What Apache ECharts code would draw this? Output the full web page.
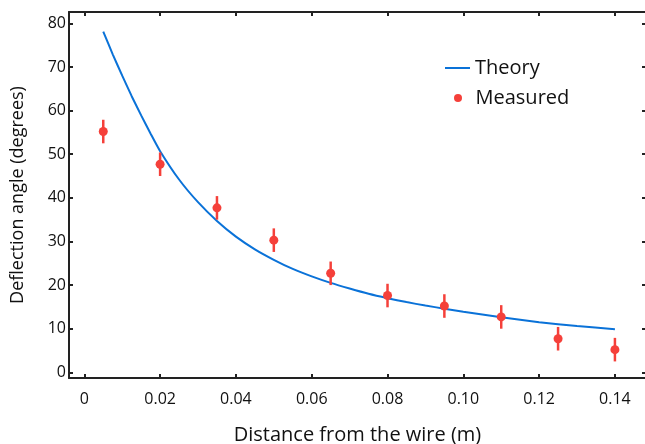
<!DOCTYPE html>
<html>
<head>
<meta charset="utf-8">
<script src="https://cdn.jsdelivr.net/npm/echarts@6/dist/echarts.min.js"></script>
<style>
html,body{margin:0;padding:0;background:#fff;}
#chart{width:645px;height:444px;}
</style>
</head>
<body>
<div id="chart"></div>
<script>
// Theory curve
var theoryX = [0.005,0.0075,0.010,0.0125,0.015,0.0175,0.020,0.025,0.030,0.035,0.040,0.045,0.050,0.055,0.060,0.065,0.070,0.075,0.080,0.085,0.090,0.095,0.100,0.110,0.120,0.130,0.140];
var theoryY = [78.1,72.9,68.0,63.3,58.9,54.7,50.7,44.2,39.0,34.7,31.1,28.2,25.8,23.7,22.0,20.5,19.2,18.0,17.0,16.1,15.3,14.6,13.9,12.6,11.5,10.6,9.9];
// Measured points
var measX = [0.005,0.020,0.035,0.050,0.065,0.080,0.095,0.110,0.125,0.140];
var measY = [55.2,47.7,37.7,30.3,22.7,17.6,15.2,12.7,7.7,5.2];
var measErr = [2.7,2.7,2.7,2.7,2.7,2.7,2.7,2.7,2.7,2.7];
// Ticks
var xTicks = [0,0.02,0.04,0.06,0.08,0.10,0.12,0.14];
var xTickLabels = ['0','0.02','0.04','0.06','0.08','0.10','0.12','0.14'];
var yTicks = [0,10,20,30,40,50,60,70,80];

var FONT = '"Open Sans", "Noto Sans", sans-serif';
var AX = '#222222';
var BLUE = '#0a72d8';
var RED = '#f5403a';

var chart = echarts.init(document.getElementById('chart'), null, {renderer:'canvas'});

var xMin = -0.00404, xMax = 0.1482, yMin = -1.3, yMax = 82.6;

function xAxisCfg(pos, showLabel){
  return {
    type:'value', position:pos, min:xMin, max:xMax,
    name: showLabel ? 'Distance from the wire (m)' : '',
    nameLocation:'middle', nameGap:47,
    nameTextStyle:{fontFamily:FONT, fontSize:20, color:'#111'},
    axisLine:{show:true, onZero:false, lineStyle:{color:AX, width:2}},
    axisTick:{show:true, inside:true, length:4, lineStyle:{color:AX, width:2}, customValues:xTicks},
    axisLabel:{show:showLabel, fontFamily:FONT, fontSize:16, color:'#111', margin:13,
      customValues:xTicks,
      formatter:function(v){ var i = xTicks.findIndex(function(t){return Math.abs(t-v)<1e-9;}); return i>=0?xTickLabels[i]:''; }},
    splitLine:{show:false}
  };
}
function yAxisCfg(pos, showLabel){
  return {
    type:'value', position:pos, min:yMin, max:yMax,
    name: showLabel ? 'Deflection angle (degrees)' : '',
    nameLocation:'middle', nameGap:42,
    nameTextStyle:{fontFamily:FONT, fontSize:18, color:'#111'},
    axisLine:{show:true, onZero:false, lineStyle:{color:AX, width:2}},
    axisTick:{show:true, inside:true, length:4, lineStyle:{color:AX, width:2}, customValues:yTicks},
    axisLabel:{show:showLabel, fontFamily:FONT, fontSize:16, color:'#111', margin:3, customValues:yTicks},
    splitLine:{show:false}
  };
}

var theoryData = theoryX.map(function(x,i){return [x, theoryY[i]];});
var measData = measX.map(function(x,i){return [x, measY[i]];});
var errData = measX.map(function(x,i){return [x, measY[i]-measErr[i], measY[i]+measErr[i]];});

chart.setOption({
  animation:false,
  backgroundColor:'#ffffff',
  grid:{left:69, top:12, right:-1, bottom:66, containLabel:false, outerBoundsMode:'none'},
  xAxis:[xAxisCfg('bottom', true), xAxisCfg('top', false)],
  yAxis:[yAxisCfg('left', true), yAxisCfg('right', false)],
  legend:[{
    orient:'vertical', left:445, top:58, padding:0, itemWidth:25, itemHeight:2, itemTextGap:6, icon:'rect',
    textStyle:{fontFamily:FONT, fontSize:20, color:'#111'},
    data:[{name:'Theory', itemStyle:{color:BLUE}}]
  },{
    orient:'vertical', left:454, top:88, padding:0, itemWidth:25, itemHeight:8, itemTextGap:6, icon:'circle',
    textStyle:{fontFamily:FONT, fontSize:20, color:'#111'},
    data:[{name:'Measured'}]
  }],
  series:[
    {
      name:'Theory', type:'line', data:theoryData, smooth:0.2, symbol:'none', showSymbol:false,
      lineStyle:{color:BLUE, width:2}, itemStyle:{color:BLUE}, z:2
    },
    {
      name:'Measured', type:'scatter', data:measData, symbol:'circle', symbolSize:9,
      itemStyle:{color:RED, opacity:1}, z:4
    },
    {
      name:'err', type:'custom', data:errData, z:3,
      renderItem:function(params, api){
        var x = api.value(0);
        var p1 = api.coord([x, api.value(1)]);
        var p2 = api.coord([x, api.value(2)]);
        return {type:'line', shape:{x1:p1[0], y1:p1[1], x2:p2[0], y2:p2[1]},
          style:{stroke:RED, lineWidth:2.5}};
      },
      encode:{x:0, y:[1,2]}
    }
  ]
});
</script>
</body>
</html>
